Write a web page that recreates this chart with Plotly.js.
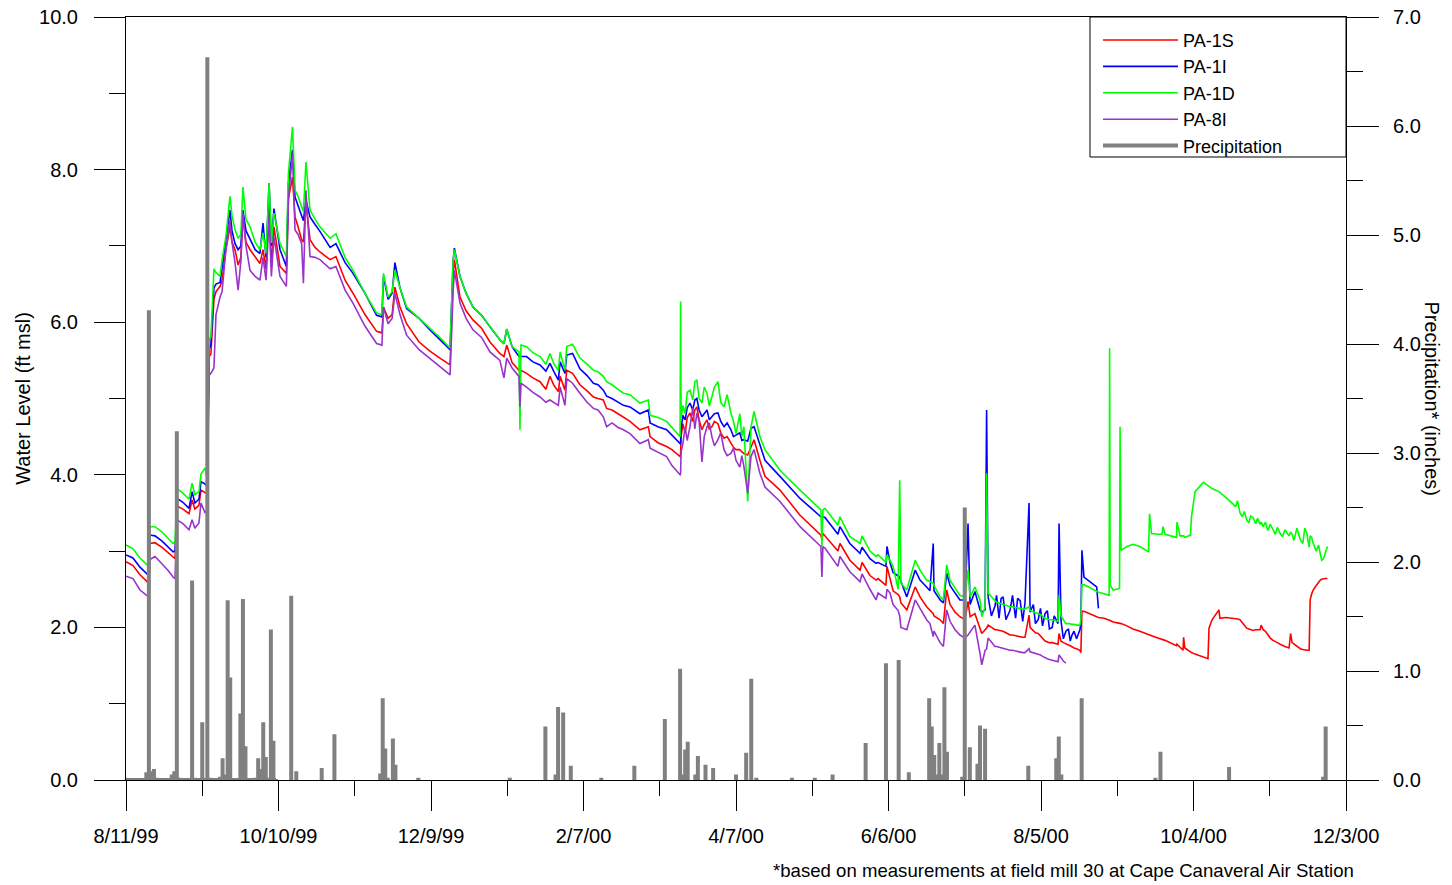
<!DOCTYPE html>
<html><head><meta charset="utf-8">
<script src="https://cdn.plot.ly/plotly-3.0.1.min.js"></script>
<style>html,body{margin:0;padding:0;background:#fff}#chart{width:1452px;height:885px}</style>
</head><body><div id="chart"></div>
<script>
// ---- data ----
const START_DATE = '1999-08-11';   // day 0 of the day offsets below
const END_DATE = '2000-12-03';

// day offsets (days after 8/11/99) of the water-level readings
// (main readings first, extra readings of the noisy stretches appended at the end; sorted when plotted)
const levelDay = [
 0, 2.75, 5.5, 8.3, 8.9, 9.4, 11.4, 14.2, 16.5, 18.5,
 19.3, 20.1, 22.4, 24.8, 26.0, 27.1, 28.7, 29.5, 31.1, 31.9,
 32.7, 33.4, 34.6, 35.4, 37.0, 37.8, 39.3, 40.9, 41.7, 42.9,
 44.1, 45.2, 46.0, 47.2, 48.8, 50.8, 52.7, 53.9, 55.1, 56.3,
 57.2, 58.2, 60.6, 63.1, 63.9, 65.5, 66.5, 67.7, 69.1, 69.8,
 70.8, 72.4, 74.4, 76.3, 80.3, 82.6, 86.2, 89.3, 94.0, 98.6,
 100.7, 101.3, 103.1, 104.7, 105.8, 107.8, 110.4, 115.3, 119.6, 123.5,
 127.5, 128.7, 129.2, 131.4, 133.8, 136.5, 139.9, 143.2, 147.1, 148.7,
 149.8, 151.9, 154.6, 155.0, 155.4, 157.6, 160.1, 162.9, 165.2, 166.8,
 168.4, 170.1, 170.8, 172.7, 173.4, 175.7, 178.6, 181.4, 183.9, 185.7,
 187.8, 189.1, 191.2, 193.6, 195.7, 198.3, 202.2, 205.5, 206.2, 209.3,
 212.7, 214.8, 218.0, 218.2, 218.4, 219.1, 221.9, 224.6, 226.6, 228.6,
 230.5, 232.9, 235.3, 238.0, 240.0, 243.1, 244.6, 245.9, 247.1, 249.4,
 251.4, 257.3, 265.2, 273.4, 273.8, 274.2, 275.0, 280.1, 280.9, 284.8,
 288.8, 289.6, 292.7, 295.1, 295.9, 299.0, 299.4, 300.6, 301.8, 303.8,
 304.4, 304.9, 307.2, 310.5, 312.4, 315.0, 316.3, 317.6, 317.9, 320.3,
 321.6, 322.9, 324.2, 326.2, 328.1, 330.1, 331.3, 332.1, 334.0, 336.0,
 336.7, 338.0, 338.6, 339.2, 341.9, 345.1, 347.8, 351.8, 355.3, 355.7,
 358.9, 361.6, 364.4, 366.7, 367.1, 367.9, 369.8, 372.2, 375.3, 375.7,
 376.1, 376.9, 379.3, 381.9, 382.6, 384.8, 386.8, 387.0, 387.2, 388.4,
 390.9, 391.1, 391.5, 393.8, 396.2, 398.9, 402.3, 402.7, 403.5, 406.0,
 407.6, 408.0, 408.8, 413.3, 413.5, 414.7, 415.9, 416.1, 416.6, 418.8,
 419.2, 420.6, 423.9, 425.7, 426.1, 427.3, 430.0, 430.4, 432.8, 435.5,
 438.3, 440.9, 443.4, 446.2, 446.6, 447.4, 451.3, 454.1, 457.6, 458.2,
 458.8, 460.7, 462.0, 464.6, 465.5, 465.9, 467.1, 468.3, 469.9, 471.1,
 472.7,
 // noisy March-April 2000 stretch
 220.0, 220.8, 223.0, 223.8, 225.5, 227.5, 229.5, 231.5, 234.0, 236.5, 239.0, 241.5, 242.3,
 // noisy PA-1I stretch July-August 2000
 340.5, 342.5, 343.5, 344.3, 346.2, 348.8, 350.0, 350.8, 352.8, 353.7, 357.0,
 357.8, 359.8, 360.6, 362.5, 363.3, 365.2, 368.8, 370.8, 371.5, 373.0, 374.0,
 // noisy PA-1D stretch October-November 2000
 436.5, 437.3, 439.2, 440.0, 441.8, 442.5, 444.5, 445.2, 448.3, 449.2, 450.2, 452.2,
 453.0, 455.0, 456.0, 459.5, 461.3, 463.0, 463.8, 466.5, 469.2, 470.4, 471.8
];

// PA-1S water level (ft msl)
const pa1s = [
 2.86, 2.81, 2.69, 2.60, 2.58, 3.10, 3.11, 3.05, 2.98, 2.92,
 2.90, 3.59, 3.55, 3.49, 3.67, 3.55, 3.60, 3.80, 3.76, 3.75,
 5.55, 5.58, 6.30, 6.40, 6.47, 6.55, 6.95, 7.25, 7.05, 6.95,
 6.75, 6.85, 7.38, 7.05, 6.95, 6.85, 6.77, 6.95, 6.70, 7.56,
 6.73, 7.25, 6.73, 6.64, 7.62, 7.90, 7.38, 7.25, 7.08, 7.05,
 7.56, 7.08, 6.98, 6.92, 6.82, 6.86, 6.55, 6.38, 6.10, 5.88,
 5.86, 6.20, 6.05, 6.10, 6.46, 6.20, 5.98, 5.74, 5.62, 5.53,
 5.44, 6.60, 6.82, 6.33, 6.15, 6.03, 5.92, 5.74, 5.59, 5.55,
 5.70, 5.47, 5.37, 5.37, 5.37, 5.33, 5.27, 5.22, 5.12, 5.29,
 5.17, 5.09, 5.29, 5.11, 5.37, 5.33, 5.18, 5.10, 5.02, 5.00,
 4.98, 4.87, 4.85, 4.80, 4.76, 4.70, 4.59, 4.63, 4.50, 4.42,
 4.37, 4.33, 4.24, 4.27, 4.50, 4.67, 4.81, 4.89, 4.59, 4.72,
 4.63, 4.67, 4.48, 4.41, 4.33, 4.28, 4.26, 4.37, 4.46, 4.19,
 3.98, 3.80, 3.47, 3.21, 3.15, 3.23, 3.20, 3.00, 3.10, 2.88,
 2.75, 2.85, 2.68, 2.62, 2.64, 2.55, 2.80, 2.65, 2.48, 2.43,
 2.40, 2.32, 2.23, 2.53, 2.40, 2.27, 2.22, 2.18, 2.15, 2.10,
 2.05, 2.49, 2.30, 2.20, 2.14, 2.10, 2.34, 2.14, 2.18, 1.97,
 1.92, 1.97, 1.99, 2.03, 1.97, 1.95, 1.90, 1.88, 2.16, 2.00,
 1.92, 1.82, 1.80, 1.78, 1.92, 1.82, 1.78, 1.74, 1.70, 1.67,
 2.21, 2.21, 2.18, 2.14, 2.13, 2.12, 2.10, 2.10, 2.09, 2.07,
 2.05, 2.05, 2.05, 2.02, 1.98, 1.95, 1.90, 1.90, 1.89, 1.86,
 1.84, 1.84, 1.83, 1.76, 1.78, 1.74, 1.70, 1.87, 1.73, 1.68,
 1.67, 1.65, 1.61, 1.59, 1.99, 2.10, 2.23, 2.12, 2.13, 2.12,
 2.10, 1.99, 1.96, 1.97, 2.03, 1.97, 1.83, 1.78, 1.73, 1.92,
 1.80, 1.75, 1.72, 1.70, 1.70, 2.36, 2.49, 2.55, 2.62, 2.64,
 2.64,
 4.55, 4.75, 4.70, 4.85, 4.72, 4.66, 4.60, 4.70, 4.55, 4.50, 4.36, 4.33, 4.30,
 2.00, 1.97, 1.96, 1.96, 1.93, 1.90, 1.89, 1.89, 1.87, 1.87, 1.95,
 1.93, 1.89, 1.86, 1.81, 1.80, 1.79, 1.80, 1.77, 1.76, 1.73, 1.72,
 2.12, 2.11, 2.06, 2.02, 1.98, 1.97, 1.97, 1.97, 1.95, 1.90, 1.86, 1.81,
 1.80, 1.77, 1.75, 1.78, 1.73, 1.71, 1.70, 2.44, 2.60, 2.63, 2.64
];

// PA-1I water level (ft msl)
const pa1i = [
 2.95, 2.91, 2.79, 2.70, 2.68, 3.21, 3.20, 3.13, 3.06, 2.99,
 3.00, 3.69, 3.64, 3.56, 3.78, 3.63, 3.68, 3.91, 3.88, 3.85,
 5.65, 5.70, 6.45, 6.50, 6.52, 6.70, 7.08, 7.47, 7.20, 7.03,
 6.95, 7.00, 7.47, 7.20, 7.08, 6.95, 6.90, 7.30, 6.85, 7.82,
 7.00, 7.49, 6.95, 6.73, 7.82, 8.26, 7.64, 7.52, 7.38, 7.33,
 7.60, 7.38, 7.28, 7.19, 6.98, 7.03, 6.78, 6.64, 6.38, 6.09,
 6.07, 6.60, 6.30, 6.38, 6.78, 6.45, 6.18, 6.05, 5.90, 5.77,
 5.64, 6.80, 6.97, 6.60, 6.38, 6.20, 6.09, 5.94, 5.77, 5.72,
 5.91, 5.68, 5.55, 5.55, 5.55, 5.55, 5.48, 5.44, 5.36, 5.46,
 5.35, 5.24, 5.48, 5.33, 5.57, 5.59, 5.39, 5.30, 5.20, 5.18,
 5.11, 5.03, 5.00, 4.95, 4.91, 4.89, 4.80, 4.85, 4.68, 4.63,
 4.59, 4.52, 4.41, 4.43, 4.60, 4.78, 4.94, 5.00, 4.76, 4.85,
 4.76, 4.81, 4.63, 4.59, 4.52, 4.46, 4.44, 4.61, 4.63, 4.39,
 4.19, 3.98, 3.69, 3.45, 3.45, 3.45, 3.44, 3.22, 3.32, 3.10,
 2.97, 3.05, 2.90, 2.84, 2.85, 2.80, 3.06, 2.85, 2.72, 2.68,
 2.66, 2.60, 2.40, 2.75, 2.62, 2.53, 2.48, 3.10, 2.48, 2.36,
 2.32, 2.71, 2.55, 2.45, 2.36, 2.36, 3.36, 2.30, 2.47, 2.23,
 2.20, 2.23, 4.85, 2.40, 2.28, 2.40, 2.22, 2.35, 3.63, 2.20,
 2.10, 2.18, 2.00, 2.05, 3.36, 2.08, 1.95, 1.90, 1.97, 2.05,
 3.01, 2.66, 2.60, 2.53, 2.25, null, null, null, null, null,
 null, null, null, null, null, null, null, null, null, null,
 null, null, null, null, null, null, null, null, null, null,
 null, null, null, null, null, null, null, null, null, null,
 null, null, null, null, null, null, null, null, null, null,
 null, null, null, null, null, null, null, null, null, null,
 null,
 4.72, 4.88, 4.85, 4.98, 4.85, 4.80, 4.72, 4.80, 4.70, 4.68, 4.50, 4.55, 4.45,
 2.15, 2.42, 2.12, 2.38, 2.10, 2.42, 2.12, 2.38, 2.08, 2.32, 2.30,
 2.05, 2.25, 2.02, 2.22, 1.98, 2.15, 1.85, 1.98, 1.82, 1.95, 1.85,
 null, null, null, null, null, null, null, null, null, null, null, null,
 null, null, null, null, null, null, null, null, null, null, null
];

// PA-1D water level (ft msl)
const pa1d = [
 3.08, 3.03, 2.91, 2.82, 2.80, 3.32, 3.32, 3.25, 3.17, 3.10,
 3.12, 3.82, 3.76, 3.68, 3.89, 3.74, 3.78, 4.01, 4.09, 3.95,
 5.78, 5.80, 6.70, 6.65, 6.60, 6.82, 7.12, 7.65, 7.40, 7.21,
 7.10, 7.15, 7.77, 7.35, 7.25, 7.05, 6.95, 7.17, 6.90, 7.82,
 7.04, 7.43, 7.03, 6.86, 7.95, 8.56, 7.73, 7.65, 7.51, 7.45,
 8.10, 7.47, 7.35, 7.25, 7.10, 7.16, 6.85, 6.68, 6.38, 6.12,
 6.10, 6.64, 6.33, 6.40, 6.68, 6.45, 6.20, 6.05, 5.92, 5.80,
 5.66, 6.80, 6.95, 6.60, 6.38, 6.20, 6.09, 5.94, 5.77, 5.72,
 5.91, 5.68, 5.61, 4.59, 5.70, 5.68, 5.60, 5.55, 5.45, 5.59,
 5.45, 5.37, 5.61, 5.37, 5.68, 5.71, 5.53, 5.45, 5.37, 5.35,
 5.29, 5.22, 5.18, 5.12, 5.07, 5.05, 4.94, 4.98, 4.78, 4.75,
 4.70, 4.62, 4.50, 6.27, 4.75, 4.91, 5.11, 5.24, 4.94, 5.07,
 5.02, 5.22, 4.89, 4.81, 4.54, 4.63, 3.65, 4.63, 4.83, 4.50,
 4.33, 4.06, 3.80, 3.54, 3.06, 3.54, 3.56, 3.34, 3.45, 3.19,
 3.10, 3.20, 3.00, 2.93, 2.95, 2.85, 2.95, 2.88, 2.80, 2.50,
 3.93, 2.58, 2.49, 2.88, 2.75, 2.62, 2.60, 2.58, 2.55, 2.40,
 2.36, 2.82, 2.62, 2.52, 2.42, 2.40, 2.75, 2.40, 2.53, 2.36,
 2.14, 2.27, 4.02, 2.45, 2.34, 2.30, 2.27, 2.25, 2.27, 2.22,
 2.18, 2.12, 2.10, 2.08, 2.42, 2.15, 2.05, 2.04, 2.03, 2.10,
 2.56, 2.56, 2.52, 2.47, 2.46, 2.44, 2.42, 5.66, 2.55, 2.49,
 2.51, 4.63, 3.01, 3.06, 3.09, 3.06, 2.99, 3.49, 3.23, 3.22,
 3.22, 3.32, 3.22, 3.18, 3.38, 3.20, 3.20, 3.20, 3.18, 3.21,
 3.45, 3.78, 3.90, 3.86, 3.85, 3.82, 3.78, 3.77, 3.70, 3.62,
 3.50, 3.41, 3.44, 3.35, 3.38, 3.32, 3.28, 3.23, 3.20, 3.25,
 3.22, 3.30, 3.15, 3.23, 3.05, 3.20, 3.10, 3.00, 2.97, 2.90,
 3.06,
 4.80, 5.08, 4.98, 5.22, 5.00, 5.15, 4.90, 5.15, 4.95, 5.05, 4.70, 4.80, 4.50,
 2.40, 2.33, 2.32, 2.31, 2.29, 2.27, 2.26, 2.26, 2.24, 2.24, 2.20,
 2.19, 2.17, 2.15, 2.11, 2.10, 2.09, 2.10, 2.05, 2.04, 2.04, 2.03,
 3.58, 3.66, 3.45, 3.52, 3.37, 3.46, 3.36, 3.43, 3.38, 3.27, 3.35, 3.22,
 3.31, 3.19, 3.28, 3.14, 3.22, 3.10, 3.30, 3.18, 3.08, 2.88, 2.98
];

// PA-8I water level (ft msl)
const pa8i = [
 2.67, 2.64, 2.49, 2.41, 2.40, 2.89, 2.93, 2.83, 2.75, 2.66,
 2.64, 3.41, 3.36, 3.28, 3.41, 3.30, 3.37, 3.63, 3.50, 3.55,
 5.30, 5.33, 5.40, 6.10, 6.33, 6.40, 6.95, 7.34, 7.05, 6.78,
 6.42, 6.80, 7.43, 7.00, 6.68, 6.60, 6.55, 6.85, 6.55, 7.38,
 6.60, 7.12, 6.60, 6.47, 7.60, 8.21, 7.21, 7.15, 7.03, 6.51,
 7.73, 6.86, 6.85, 6.82, 6.70, 6.73, 6.42, 6.25, 5.95, 5.72,
 5.70, 6.20, 5.98, 6.05, 6.38, 6.10, 5.83, 5.64, 5.52, 5.42,
 5.31, 6.40, 6.68, 6.25, 6.05, 5.90, 5.80, 5.61, 5.50, 5.27,
 5.53, 5.40, 5.29, 4.89, 5.20, 5.15, 5.08, 5.02, 4.95, 4.98,
 4.95, 4.91, 5.15, 4.91, 5.26, 5.20, 5.07, 4.95, 4.87, 4.85,
 4.76, 4.63, 4.68, 4.62, 4.59, 4.54, 4.41, 4.46, 4.35, 4.30,
 4.24, 4.12, 4.00, 4.02, 4.30, 4.41, 4.63, 4.81, 4.17, 4.63,
 4.50, 4.46, 4.33, 4.28, 4.19, 4.11, 3.76, 4.24, 4.33, 4.02,
 3.84, 3.65, 3.32, 3.06, 2.66, 3.06, 3.04, 2.80, 2.93, 2.73,
 2.60, 2.70, 2.50, 2.36, 2.45, 2.38, 2.50, 2.45, 2.30, 2.22,
 2.15, 2.00, 1.97, 2.36, 2.25, 2.10, 2.05, 1.88, 1.95, 1.80,
 1.75, 2.23, 2.08, 1.97, 1.90, 1.86, 1.90, 1.94, 2.03, 1.66,
 1.51, 1.70, 1.72, 1.86, 1.75, 1.72, 1.70, 1.68, 1.72, 1.68,
 1.65, 1.60, 1.57, 1.55, 1.64, 1.60, 1.53, null, null, null,
 null, null, null, null, null, null, null, null, null, null,
 null, null, null, null, null, null, null, null, null, null,
 null, null, null, null, null, null, null, null, null, null,
 null, null, null, null, null, null, null, null, null, null,
 null, null, null, null, null, null, null, null, null, null,
 null, null, null, null, null, null, null, null, null, null,
 null,
 4.62, 4.45, 4.88, 4.60, 4.70, 4.50, 4.68, 4.38, 4.55, 4.25, 4.35, 4.10, 4.25,
 1.80, 1.75, 1.74, 1.73, 1.71, 1.70, 1.69, 1.69, 1.67, 1.67, 1.67,
 1.66, 1.64, 1.62, 1.59, 1.58, 1.56, 1.56, null, null, null, null,
 null, null, null, null, null, null, null, null, null, null, null, null,
 null, null, null, null, null, null, null, null, null, null, null
];

// daily precipitation (inches): day offset after 8/11/99 and amount
const rainDay = [
 0, 1, 2, 3, 4, 5, 6, 7, 8, 9,
 10, 11, 12, 13, 14, 15, 16, 17, 18, 19,
 20, 21, 22, 23, 24, 25, 26, 27, 28, 29,
 30, 31, 32, 33, 34, 35, 36, 37, 38, 39,
 40, 41, 42, 43, 44, 45, 46, 47, 48, 49,
 50, 51, 52, 53, 54, 55, 56, 57, 58, 59,
 65, 67, 77, 82, 100, 101, 102, 103, 105, 106,
 115, 151, 165, 169, 170, 172, 175, 187, 200, 212,
 218, 219, 220, 221, 224, 225, 228, 231, 240, 244,
 246, 248, 262, 271, 278, 291, 299, 304, 308, 316,
 317, 318, 319, 320, 321, 322, 323, 329, 330, 332,
 335, 336, 338, 355, 366, 367, 368, 376, 405, 407,
 434, 471, 472
];
const rainInches = [
 0, 0, 0, 0, 0, 0, 0, 0, 0.07, 4.31,
 0.08, 0.10, 0.02, 0, 0, 0, 0, 0, 0.05, 0.08,
 3.20, 0.02, 0, 0, 0, 0, 1.83, 0.02, 0, 0,
 0.53, 0.02, 6.63, 0.02, 0.01, 0.01, 0, 0.03, 0.20, 0.05,
 1.65, 0.94, 0, 0, 0, 0.61, 1.66, 0.31, 0, 0,
 0, 0.02, 0.20, 0.10, 0.53, 0.21, 0.02, 1.38, 0.36, 0.01,
 1.69, 0.08, 0.11, 0.42, 0.06, 0.75, 0.29, 0.02, 0.38, 0.14,
 0.02, 0.02, 0.49, 0.05, 0.67, 0.62, 0.13, 0.02, 0.13, 0.56,
 1.02, 0.05, 0.28, 0.35, 0.05, 0.22, 0.14, 0.11, 0.05, 0.25,
 0.93, 0.02, 0.02, 0.02, 0.05, 0.34, 1.07, 1.10, 0.07, 0.75,
 0.49, 0.23, 0.05, 0.34, 0.05, 0.85, 0.26, 0.03, 2.50, 0.30,
 0.15, 0.50, 0.47, 0.13, 0.20, 0.40, 0.05, 0.75, 0.02, 0.26,
 0.12, 0.03, 0.49
];

const seriesNames = ['PA-1S', 'PA-1I', 'PA-1D', 'PA-8I', 'Precipitation'];
const seriesColors = ['#ff0000', '#0000ff', '#00ff00', '#9933cc', '#808080'];
const yTitle = 'Water Level (ft msl)';
const y2Title = 'Precipitation* (inches)';
const footnote = '*based on measurements at field mill 30 at Cape Canaveral Air Station';

// ---- build ----
[pa1s, pa1i, pa1d, pa8i].forEach(function (a, i) {
  if (a.length !== levelDay.length) throw new Error('length mismatch in series ' + seriesNames[i] + ': ' + a.length + ' vs ' + levelDay.length);
});
if (rainDay.length !== rainInches.length) throw new Error('rain length mismatch ' + rainDay.length + ' vs ' + rainInches.length);

const t0 = Date.parse(START_DATE + 'T00:00:00Z');
function dayToDate(d) { return new Date(t0 + d * 86400000).toISOString().slice(0, 19).replace('T', ' '); }
const order = levelDay.map(function (d, i) { return i; }).sort(function (a, b) { return levelDay[a] - levelDay[b]; });
const levelDates = order.map(function (i) { return dayToDate(levelDay[i]); });
function inOrder(arr) { return order.map(function (i) { return arr[i]; }); }

// precipitation drawn as vertical strokes from 0 up to the daily total
const rainX = [], rainY = [];
for (let i = 0; i < rainDay.length; i++) {
  if (i > 0 && rainDay[i] - rainDay[i - 1] > 1) { rainX.push(null); rainY.push(null); }
  const dt = dayToDate(rainDay[i]);
  rainX.push(dt, dt, dt); rainY.push(0, rainInches[i], 0);
}

const FONT = '"Liberation Sans", Arial, Helvetica, sans-serif';
const levels = [pa1s, pa1i, pa1d, pa8i];
const traces = levels.map(function (vals, i) {
  return { type: 'scatter', mode: 'lines', name: seriesNames[i], x: levelDates, y: inOrder(vals),
           line: { color: seriesColors[i], width: 1.6 }, connectgaps: false, hoverinfo: 'skip' };
});
traces.push({ type: 'scatter', mode: 'lines', name: seriesNames[4], x: rainX, y: rainY, yaxis: 'y2',
              line: { color: seriesColors[4], width: 4 }, connectgaps: false, hoverinfo: 'skip' });

const DAY = 86400000;
const axisCommon = { ticks: 'outside', tickwidth: 1, tickcolor: '#000', showline: true, linecolor: '#000',
                     linewidth: 1, showgrid: false, zeroline: false, tickfont: { family: FONT, size: 20, color: '#000' } };

const layout = {
  width: 1452, height: 885,
  margin: { l: 126, r: 106, t: 17, b: 105, pad: 0 },
  paper_bgcolor: '#fff', plot_bgcolor: '#fff',
  font: { family: FONT, size: 20, color: '#000' },
  showlegend: true,
  legend: { x: 0.7967, xanchor: 'left', y: 0.9937, yanchor: 'top', bgcolor: 'rgba(255,255,255,0)', borderwidth: 0,
            font: { family: FONT, size: 18, color: '#000' }, itemwidth: 75, traceorder: 'normal' },
  // frame of the legend box (top-right corner of the plot area)
  shapes: [
    { type: 'rect', xref: 'paper', yref: 'paper', x0: 0.79016, x1: 1, y0: 0.81651, y1: 1,
      line: { color: '#000', width: 1 }, fillcolor: '#fff', layer: 'above' }
  ],
  xaxis: Object.assign({}, axisCommon, {
    type: 'date', range: [START_DATE, END_DATE], tick0: START_DATE, dtick: 60 * DAY,
    tickformat: '%-m/%-d/%y', ticklen: 30, mirror: true, ticklabelstandoff: 8,
    minor: { dtick: 30 * DAY, tick0: START_DATE, ticks: 'outside', ticklen: 15, tickwidth: 1, tickcolor: '#000', showgrid: false }
  }),
  yaxis: Object.assign({}, axisCommon, {
    range: [0, 10], tick0: 0, dtick: 2, tickformat: '.1f', ticklen: 31, ticklabelstandoff: 12,
    minor: { dtick: 1, tick0: 0, ticks: 'outside', ticklen: 16, tickwidth: 1, tickcolor: '#000', showgrid: false },
    title: { text: yTitle, font: { family: FONT, size: 20, color: '#000' }, standoff: 3 }
  }),
  yaxis2: Object.assign({}, axisCommon, {
    overlaying: 'y', side: 'right', range: [0, 7], tick0: 0, dtick: 1, tickformat: '.1f', ticklen: 32, ticklabelstandoff: 10,
    minor: { dtick: 0.5, tick0: 0, ticks: 'outside', ticklen: 16, tickwidth: 1, tickcolor: '#000', showgrid: false }
  }),
  annotations: [
    { text: y2Title, textangle: 90, xref: 'paper', yref: 'paper', x: 1.0705, y: 0.5, xanchor: 'center', yanchor: 'middle',
      showarrow: false, font: { family: FONT, size: 20, color: '#000' } },
    { text: footnote, xref: 'paper', yref: 'paper', x: 1.0082, xanchor: 'right', y: -0.118, yanchor: 'middle',
      showarrow: false, font: { family: FONT, size: 18.6, color: '#000' } }
  ],
  hovermode: false
};

Plotly.newPlot('chart', traces, layout, { staticPlot: true, displayModeBar: false });
</script>
</body></html>
